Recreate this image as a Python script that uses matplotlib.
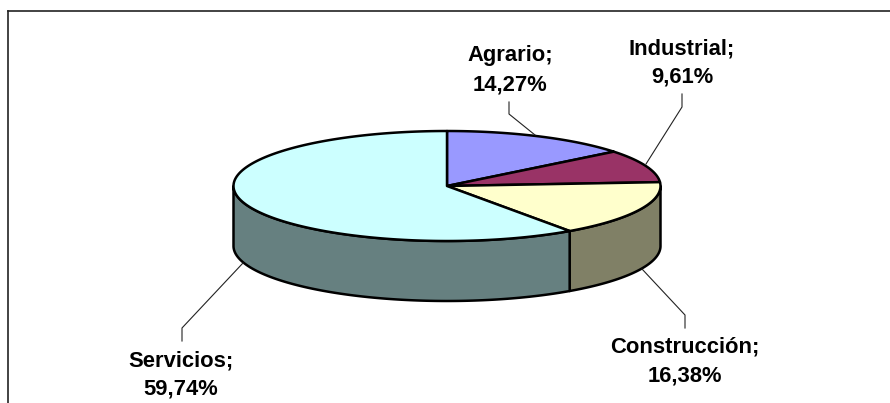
import numpy as np
import matplotlib
matplotlib.use("Agg")
import matplotlib.pyplot as plt

categories = ["Agrario", "Industrial", "Construcción", "Servicios"]
shares = [14.27, 9.61, 16.38, 59.74]
top_colors = ["#9999FF", "#993366", "#FFFFCC", "#CCFFFF"]
side_colors = ["#666699", "#662244", "#808066", "#668080"]

cx, cy = 447, 186
rx, ry = 213.5, 55
depth = 60

plt.rcParams['font.family'] = ['Liberation Sans', 'DejaVu Sans']


def rim(a0, a1, dy=0):
    # angles clockwise from the top of the ellipse, in degrees
    t = np.radians(np.linspace(a0, a1, 200))
    return cx + rx*np.sin(t), cy - ry*np.cos(t) + dy


fig = plt.figure(figsize=(8.9, 4.03), dpi=100)
ax = fig.add_axes([0, 0, 1, 1])
ax.set_xlim(0, 890)
ax.set_ylim(403, 0)
ax.axis('off')

# frame, open at the bottom and right like the crop
ax.plot([8, 8], [403, 11], color='#222222', lw=1.2)
ax.plot([8, 890], [11, 11], color='#222222', lw=1.2)

edges = np.cumsum([0] + shares) * 3.6

# sides first, only the front half of the cylinder shows
for i in range(len(shares)):
    a0 = max(edges[i], 90)
    a1 = min(edges[i+1], 270)
    if a1 <= a0:
        continue
    x0, y0 = rim(a0, a1)
    x1, y1 = rim(a0, a1, depth)
    ax.fill(np.r_[x0, x1[::-1]], np.r_[y0, y1[::-1]], facecolor=side_colors[i],
            edgecolor='black', lw=1.8, joinstyle='round')

for i in range(len(shares)):
    x, y = rim(edges[i], edges[i+1])
    ax.fill(np.r_[cx, x], np.r_[cy, y], facecolor=top_colors[i],
            edgecolor='black', lw=1.8, joinstyle='round')

# leader lines
leaders = [
    ([509, 509, 535], [102, 114, 135]),
    ([682, 682, 646], [94, 107, 164]),
    ([685, 685, 642], [328, 315, 269]),
    ([182, 182, 243], [341, 328, 263]),
]
for lx, ly in leaders:
    ax.plot(lx, ly, color='#222222', lw=0.8)

label_pos = [(510, 70), (682, 63), (685, 361.5), (181, 375)]
for name, val, (lx, ly) in zip(categories, shares, label_pos):
    txt = "%s;\n%s%%" % (name, ("%.2f" % val).replace('.', ','))
    ax.text(lx, ly, txt, ha='center', va='center', fontsize=15.8, fontweight='bold',
            color='black', linespacing=1.5)

fig.savefig("out.png", dpi=100, facecolor='white')
